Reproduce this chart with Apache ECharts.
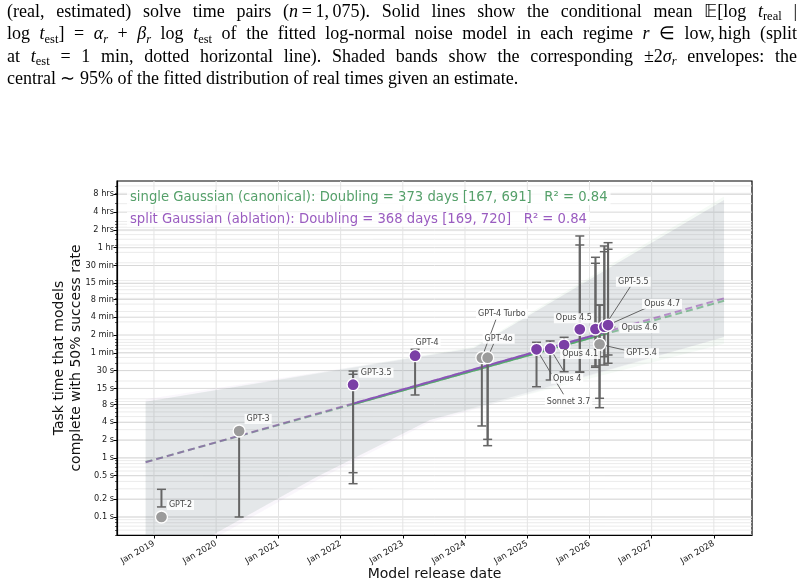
<!DOCTYPE html>
<html><head><meta charset="utf-8">
<script src="https://cdn.jsdelivr.net/npm/echarts@6/dist/echarts.min.js"></script>
<style>html,body{margin:0;padding:0;background:#fff}#c{width:804px;height:586px}</style>
</head><body><div id="c"></div>
<script>
// ================= DATA =================
const models        = ['GPT-2','GPT-3','GPT-3.5','GPT-4','GPT-4 Turbo','GPT-4o','Sonnet 3.7','Opus 4','Opus 4.1','Opus 4.5','Opus 4.6','GPT-5.4','GPT-5.5','Opus 4.7'];
const releaseDates  = ['2019-02-14','2020-05-15','2022-03-15','2023-03-14','2024-04-09','2024-05-13','2025-02-24','2025-05-15','2025-08-05','2025-11-05','2026-02-05','2026-03-01','2026-03-29','2026-04-20'];
const solveTimeSec  = [0.1, 2.85, 17.3, 53.6, 49.6, 49.6, 68.8, 70.4, 81.3, 150, 151.7, 83.6, 166, 177];
const markerGroup   = ['gray','gray','purple','purple','gray','gray','purple','purple','purple','purple','purple','gray','purple','purple'];
const errLowA       = [0.148, 0.1, 0.366, 11.6, 3.47, 2.06, 16.0, 20.8, 28.7, 28.1, 35.9, 10.2, 37.3, 55.1];
const errHighA      = [0.294, 2.9, 29.5, 68.8, 52, 52, 90.4, 95.1, 109.8, 5685, 2478, 386, 3850, 4378];
const errLowB       = [null, null, 0.562, null, null, 1.61, null, null, null, 28.5, 34.1, 7.07, 51.6, 39.9];
const errHighB      = [null, null, 26.0, null, null, 52, null, null, null, 4003, 1963, 386, 3083, 3388];

// fitted trend lines (endpoints)
const trendDates        = ['2018-11-13','2028-03-01'];
const trendSplitSec     = [0.842, 502];
const trendSingleSec    = [0.85, 455];
const fitSpanDates      = ['2022-03-15','2026-04-20'];
const fitSplitSec       = [8.29, 139];
const fitSingleSec      = [8.06, 129];

// +-2 sigma envelopes
const bandUpperDates    = ['2018-11-13','2024-02-22','2028-03-01'];
const bandLowerDates    = ['2018-11-13','2021-08-15','2023-06-09','2028-03-01'];
const grayUpperSec      = [8.9, 72.6, 23100];
const grayLowerSec      = [0.0116, 0.48, 4.38, 111];
const splitUpperSec     = [9.8, 72.6, 23100];
const splitLowerSec     = [0.0095, 0.42, 4.0, 111];
const singleUpperSec    = [8.9, 76, 26500];
const singleLowerSec    = [0.0116, 0.48, 4.38, 85];

// ticks
const yTickSec    = [0.1,0.2,0.5,1,2,4,8,15,30,60,120,240,480,900,1800,3600,7200,14400,28800];
const yTickLabels = ['0.1 s','0.2 s','0.5 s','1 s','2 s','4 s','8 s','15 s','30 s','1 min','2 min','4 min','8 min','15 min','30 min','1 hr','2 hrs','4 hrs','8 hrs'];
const xTickYears  = [2019,2020,2021,2022,2023,2024,2025,2026,2027,2028];

const legendSingle = 'single Gaussian (canonical): Doubling = 373 days [167, 691]   R² = 0.84';
const legendSplit  = 'split Gaussian (ablation): Doubling = 368 days [169, 720]   R² = 0.84';

const captionLines = [
  '(real, estimated) solve time pairs ({i|n}\u2009=\u20091,\u2009075). Solid lines show the conditional mean 𝔼[log {i|t}{s|real} |',
  'log {i|t}{s|est}] = {i|α}{si|r} + {i|β}{si|r} log {i|t}{s|est} of the fitted log-normal noise model in each regime {i|r} ∈ low,\u2009high (split',
  'at {i|t}{s|est} = 1 min, dotted horizontal line). Shaded bands show the corresponding ±2{i|σ}{si|r} envelopes: the',
  'central ∼ 95% of the fitted distribution of real times given an estimate.'
];

// ================= LAYOUT (pixels, not data) =================
const labelLayout = {
  'GPT-2':      {dx:19, dy:-12},
  'GPT-3':      {dx:19, dy:-12},
  'GPT-3.5':    {dx:23, dy:-12},
  'GPT-4':      {dx:12, dy:-13},
  'GPT-4 Turbo':{dx:20, dy:-44, lx:14, ly:-38},
  'GPT-4o':     {dx:11, dy:-19, lx:6, ly:-14},
  'Sonnet 3.7': {dx:32, dy:53, lx:27, ly:45},
  'Opus 4':     {dx:17, dy:30, lx:14, ly:23},
  'Opus 4.1':   {dx:16, dy:9},
  'Opus 4.5':   {dx:-6, dy:-11},
  'Opus 4.6':   {dx:44, dy:-1, lx:20, ly:-2},
  'GPT-5.4':    {dx:42, dy:9, lx:26, ly:6},
  'GPT-5.5':    {dx:29, dy:-45, lx:26, ly:-40},
  'Opus 4.7':   {dx:54, dy:-21, lx:38, ly:-17}
};

// ================= BUILD =================
const T = s => Date.parse(s);
const L = Math.log10;
const X_MIN = Date.UTC(2018,4,29), X_MAX = Date.UTC(2028,7,12);
const Y_MIN = -1.3046, Y_MAX = 4.685;
const PURPLE = '#7b3fa6', GRAY = '#9b9b9b';

const pts = models.map((m,i)=>[T(releaseDates[i]), L(solveTimeSec[i]), m, markerGroup[i]]);
const grayPts = pts.filter(p=>p[3]==='gray');
const purplePts = pts.filter(p=>p[3]==='purple');

const barData = [];
models.forEach((m,i)=>{
  barData.push([T(releaseDates[i]), L(errLowA[i]), L(errHighA[i])]);
  if (errLowB[i] != null) barData.push([T(releaseDates[i]), L(errLowB[i]), L(errHighB[i])]);
});

const minorVals = [];
for (let n=-2;n<=4;n++) for (let k=1;k<=9;k++){ const v=L(k*Math.pow(10,n)); if(v>Y_MIN && v<Y_MAX) minorVals.push(v); }
const majorVals = yTickSec.map(L);
const hGridData = minorVals.map(v=>[X_MIN, v, 0]).concat(majorVals.map(v=>[X_MIN, v, 1]));
const vGridData = xTickYears.map(y=>[Date.UTC(y,0,1), Y_MIN]);

function mkBand(up, lo){
  return { up: bandUpperDates.map((d,i)=>[T(d), L(up[i])]), lo: bandLowerDates.map((d,i)=>[T(d), L(lo[i])]) };
}
const bands = [
  {b: mkBand(splitUpperSec, splitLowerSec), fill:'rgba(170,120,205,0.06)'},
  {b: mkBand(singleUpperSec, singleLowerSec), fill:'rgba(100,180,125,0.06)'},
  {b: mkBand(grayUpperSec, grayLowerSec), fill:'rgba(115,125,140,0.10)'}
];

const line2 = (dates, secs) => dates.map((d,i)=>[T(d), L(secs[i])]);

// caption words
const capStyle = {n:{fs:18,it:'normal',dy:0}, i:{fs:18,it:'italic',dy:0}, s:{fs:12.5,it:'normal',dy:5}, si:{fs:12.5,it:'italic',dy:5}};
const capY = [12, 34.5, 57, 79];
const capLeft = 7, capRight = 797;
const mctx = document.createElement('canvas').getContext('2d');
function fontStr(st){ const c=capStyle[st]; return c.it+' '+c.fs+'px "Liberation Serif"'; }
function mw(st,t){ mctx.font = fontStr(st); return mctx.measureText(t).width; }
function parseWord(w){ const re=/\{(\w+)\|([^}]*)\}|([^{]+)/g; const out=[]; let m; while((m=re.exec(w))){ if(m[3]!==undefined) out.push(['n',m[3]]); else out.push([m[1],m[2]]);} return out; }
const graphics = [];
captionLines.forEach((line, li)=>{
  const words = line.split(' ').map(parseWord);
  const widths = words.map(w=>w.reduce((a,[st,t])=>a+mw(st,t),0));
  const total = widths.reduce((a,b)=>a+b,0);
  const justify = li < captionLines.length-1;
  const gap = justify ? (capRight-capLeft-total)/(words.length-1) : mw('n',' ');
  let x = capLeft;
  words.forEach(w=>{
    w.forEach(([st,t])=>{
      const c = capStyle[st];
      graphics.push({type:'text', x:x, y:capY[li]+c.dy, silent:true,
        style:{text:t, fontSize:c.fs, fontStyle:c.it, fontFamily:'Liberation Serif', fill:'#000', verticalAlign:'middle'}});
      x += mw(st,t);
    });
    x += gap;
  });
});
// legend texts
graphics.push({type:'text', x:127, y:197.7, z:100, style:{text:legendSingle, fill:'#55a06a', fontSize:13.2, fontFamily:'DejaVu Sans', verticalAlign:'middle', backgroundColor:'rgba(255,255,255,0.85)', padding:[1,3]}});
graphics.push({type:'text', x:127, y:219.3, z:100, style:{text:legendSplit, fill:'#9a5cc0', fontSize:13.2, fontFamily:'DejaVu Sans', verticalAlign:'middle', backgroundColor:'rgba(255,255,255,0.85)', padding:[1,3]}});
// axis titles
graphics.push({type:'text', x:68, y:358, rotation:Math.PI/2, style:{text:'Task time that models\ncomplete with 50% success rate', fill:'#111', fontSize:14, fontFamily:'DejaVu Sans', align:'center', verticalAlign:'middle', lineHeight:17}});
graphics.push({type:'text', x:434.5, y:574, style:{text:'Model release date', fill:'#111', fontSize:14, fontFamily:'DejaVu Sans', align:'center', verticalAlign:'middle'}});

const option = {
  animation: false,
  backgroundColor: '#fff',
  grid: {left:117, right:52, top:181, bottom:51, show:true, borderColor:'#000', borderWidth:1.2, backgroundColor:'transparent', containLabel:false, outerBoundsMode:'none'},
  xAxis: {
    type:'value', min:X_MIN, max:X_MAX,
    axisLine:{show:true, onZero:false, lineStyle:{color:'#000', width:1.2}},
    axisTick:{show:true, customValues: xTickYears.map(y=>Date.UTC(y,0,1)), length:3.5, lineStyle:{color:'#000', width:1}},
    axisLabel:{customValues: xTickYears.map(y=>Date.UTC(y,0,1)), rotate:30, fontSize:8.5, fontFamily:'DejaVu Sans', color:'#1a1a1a', margin:8,
      formatter: v => 'Jan ' + new Date(v).getUTCFullYear()},
    splitLine:{show:false}
  },
  yAxis: [{
    type:'value', min:Y_MIN, max:Y_MAX,
    axisLine:{show:true, onZero:false, lineStyle:{color:'#000', width:1.2}},
    axisTick:{show:true, customValues: majorVals, length:3.5, lineStyle:{color:'#000', width:1}},
    axisLabel:{customValues: majorVals, fontSize:8.2, fontFamily:'DejaVu Sans', color:'#1a1a1a', margin:3,
      formatter: v => { let bi=0, bd=1e9; majorVals.forEach((m,i)=>{const d=Math.abs(m-v); if(d<bd){bd=d;bi=i;}}); return yTickLabels[bi]; }},
    splitLine:{show:false}
  },{
    type:'value', min:Y_MIN, max:Y_MAX, position:'left',
    axisLine:{show:false, onZero:false}, axisLabel:{show:false}, splitLine:{show:false},
    axisTick:{show:true, customValues: minorVals, length:2, lineStyle:{color:'#000', width:0.6}}
  }],
  graphic: graphics,
  series: [
    {type:'custom', name:'hgrid', z:0, clip:true, silent:true, data:hGridData, encode:{x:0,y:1},
      renderItem:(p,api)=>{ const v=api.value(1), major=api.value(2); const a=api.coord([X_MIN,v]), b=api.coord([X_MAX,v]);
        return {type:'line', shape:{x1:a[0],y1:a[1],x2:b[0],y2:b[1]}, style:{stroke: major? '#d8d8d8':'#e6e6e6', lineWidth: major?1:0.8}}; }},
    {type:'custom', name:'vgrid', z:0, clip:true, silent:true, data:vGridData, encode:{x:0,y:1},
      renderItem:(p,api)=>{ const t=api.value(0); const a=api.coord([t,Y_MIN]), b=api.coord([t,Y_MAX]);
        return {type:'line', shape:{x1:a[0],y1:a[1],x2:b[0],y2:b[1]}, style:{stroke:'#e4e4e4', lineWidth:1}}; }},
    {type:'custom', name:'bands', z:1, clip:true, silent:true, data:bands.map((b,i)=>[X_MIN, 0, i]), encode:{x:0,y:1},
      renderItem:(p,api)=>{ const bd = bands[api.value(2)];
        const pts = bd.b.up.map(q=>api.coord(q)).concat(bd.b.lo.slice().reverse().map(q=>api.coord(q)));
        return {type:'polygon', shape:{points:pts}, style:{fill:bd.fill}}; }},
    {type:'line', name:'single dashed', z:2, data:line2(trendDates, trendSingleSec), showSymbol:false, symbol:'none', silent:true,
      lineStyle:{color:'#3f9a5c', width:2, type:[7,4], opacity:0.55}},
    {type:'line', name:'split dashed', z:2, data:line2(trendDates, trendSplitSec), showSymbol:false, symbol:'none', silent:true,
      lineStyle:{color:'#8e44ad', width:2, type:[7,4], opacity:0.55}},
    {type:'line', name:'single fit', z:2, data:line2(fitSpanDates, fitSingleSec), showSymbol:false, symbol:'none', silent:true,
      lineStyle:{color:'#55aa6c', width:2}},
    {type:'line', name:'split fit', z:2, data:line2(fitSpanDates, fitSplitSec), showSymbol:false, symbol:'none', silent:true,
      lineStyle:{color:'#8a55b8', width:2}},
    {type:'custom', name:'errorbars', z:3, clip:false, silent:true, data:barData, encode:{x:0,y:[1,2]},
      renderItem:(p,api)=>{ const x=api.value(0); const a=api.coord([x,api.value(1)]), b=api.coord([x,api.value(2)]); const c='#656565', w=4.5;
        return {type:'group', children:[
          {type:'line', shape:{x1:a[0],y1:a[1],x2:b[0],y2:b[1]}, style:{stroke:c, lineWidth:2}},
          {type:'line', shape:{x1:a[0]-w,y1:a[1],x2:a[0]+w,y2:a[1]}, style:{stroke:c, lineWidth:1.5}},
          {type:'line', shape:{x1:b[0]-w,y1:b[1],x2:b[0]+w,y2:b[1]}, style:{stroke:c, lineWidth:1.5}}]}; }},
    {type:'custom', name:'leaders', z:3, clip:false, silent:true, data:pts, encode:{x:0,y:1},
      renderItem:(p,api)=>{ const lay=labelLayout[models[p.dataIndex]]; if(!lay || lay.lx===undefined) return null;
        const c=api.coord([api.value(0),api.value(1)]);
        return {type:'line', shape:{x1:c[0]+lay.lx,y1:c[1]+lay.ly,x2:c[0],y2:c[1]}, style:{stroke:'#555', lineWidth:0.9}}; }},
    {type:'scatter', name:'gray', z:4, data:grayPts, symbolSize:12, itemStyle:{color:GRAY, borderColor:'#fff', borderWidth:1.3, opacity:1}, silent:true},
    {type:'scatter', name:'purple', z:5, data:purplePts, symbolSize:12, itemStyle:{color:PURPLE, borderColor:'#fff', borderWidth:1.3, opacity:1}, silent:true},
    {type:'custom', name:'labels', z:6, clip:false, silent:true, data:pts, encode:{x:0,y:1},
      renderItem:(p,api)=>{ const name=models[p.dataIndex]; const lay=labelLayout[name];
        const c=api.coord([api.value(0),api.value(1)]);
        return {type:'text', style:{text:name, x:c[0]+lay.dx, y:c[1]+lay.dy, align:'center', verticalAlign:'middle',
          fontSize:8, fontFamily:'DejaVu Sans', fill:'#444', backgroundColor:'rgba(255,255,255,0.85)', padding:[1,2]}}; }}
  ]
};
const chart = echarts.init(document.getElementById('c'), null, {renderer:'canvas', width:804, height:586});
chart.setOption(option);
</script>
</body></html>
